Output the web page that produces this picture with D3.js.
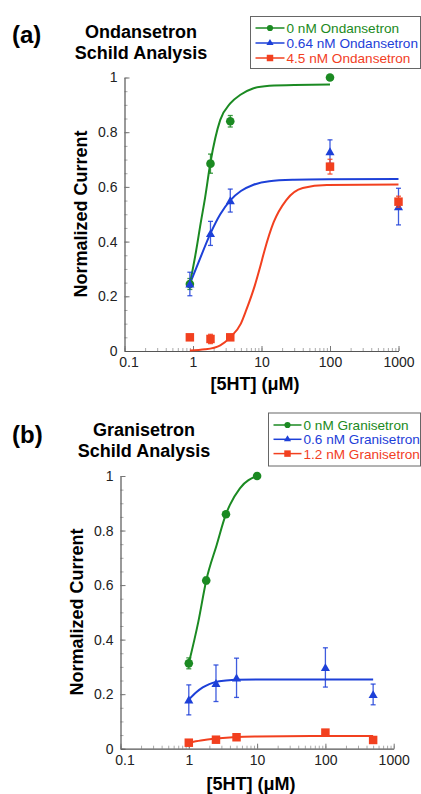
<!DOCTYPE html>
<html>
<head>
<meta charset="utf-8">
<script src="https://cdn.jsdelivr.net/npm/d3@7"></script>
<style>
  html, body { margin: 0; padding: 0; background: #fff; }
  svg { display: block; font-family: 'Liberation Sans', Arial, sans-serif; }
</style>
</head>
<body>
<div class="canvas"></div>
<script>
const xTickValues = [0.1, 1, 10, 100, 1000]
const yTickValues = [0, 0.2, 0.4, 0.6, 0.8, 1]
const yMinorValues = d3.range(0, 1.001, 0.05)
const seriesColors = ['#1b8a22', '#1d40d8', '#f2401f']
const seriesShapes = [d3.symbolCircle, d3.symbolTriangle, d3.symbolSquare]

// (a) ondansetron
const ondLabels = ['0 nM Ondansetron', '0.64 nM Ondansetron', '4.5 nM Ondansetron']
const ondX0 = [0.9, 1.8, 3.5, 100]
const ondY0 = [0.245, 0.685, 0.84, 1.0]
const ondErr0 = [0.02, 0.035, 0.021, 0]
const ondX1 = [0.9, 1.8, 3.5, 100, 1000]
const ondY1 = [0.245, 0.43, 0.55, 0.729, 0.528]
const ondErr1 = [0.043, 0.044, 0.042, 0.043, 0.067]
const ondX2 = [0.9, 1.8, 3.5, 100, 1000]
const ondY2 = [0.05, 0.044, 0.05, 0.674, 0.546]
const ondErr2 = [0.008, 0.017, 0.006, 0.027, 0.02]
const ondFitX0 = [0.9, 1.1, 1.3, 1.5, 1.8, 2.5, 3.5, 5, 7.5, 13, 30, 100]
const ondFitY0 = [0.245, 0.36, 0.47, 0.56, 0.69, 0.845, 0.905, 0.938, 0.96, 0.97, 0.973, 0.974]
const ondFitX1 = [0.9, 1.2, 1.8, 2.5, 3.5, 5, 7.5, 13, 30, 100, 1000]
const ondFitY1 = [0.245, 0.323, 0.43, 0.5, 0.551, 0.585, 0.607, 0.621, 0.626, 0.628, 0.629]
const ondFitX2 = [0.9, 1.5, 2.5, 3.5, 5, 6, 8, 9.5, 11, 15, 23, 40, 90, 1000]
const ondFitY2 = [0.002, 0.006, 0.021, 0.05, 0.1, 0.15, 0.24, 0.305, 0.365, 0.47, 0.552, 0.596, 0.607, 0.609]

// (b) granisetron
const graLabels = ['0 nM Granisetron', '0.6 nM Granisetron', '1.2 nM Granisetron']
const graX0 = [1, 1.8, 3.5, 10]
const graY0 = [0.313, 0.617, 0.86, 1.0]
const graErr0 = [0.02, 0.012, 0.008, 0.005]
const graX1 = [1, 2.5, 5, 100, 500]
const graY1 = [0.179, 0.24, 0.26, 0.298, 0.199]
const graErr1 = [0.055, 0.067, 0.072, 0.072, 0.038]
const graX2 = [1, 2.5, 5, 100, 500]
const graY2 = [0.022, 0.033, 0.042, 0.059, 0.032]
const graErr2 = [0.004, 0.01, 0.01, 0.01, 0.004]
const graFitX0 = [1, 1.38, 1.8, 2.56, 3.5, 4, 5.6, 10]
const graFitY0 = [0.313, 0.466, 0.617, 0.747, 0.86, 0.894, 0.955, 1.0]
const graFitX1 = [1, 1.3, 1.6, 2, 2.5, 3.5, 5, 10, 500]
const graFitY1 = [0.18, 0.208, 0.225, 0.237, 0.245, 0.25, 0.253, 0.254, 0.254]
const graFitX2 = [1, 1.5, 2.5, 5, 10, 100, 500]
const graFitY2 = [0.022, 0.03, 0.037, 0.043, 0.045, 0.047, 0.047]

const makeSeries = (labels, xs, ys, errs, fitXs, fitYs) => labels.map((label, i) => ({
  label,
  color: seriesColors[i],
  shape: seriesShapes[i],
  points: xs[i].map((x, j) => ({x, y: ys[i][j], err: errs[i][j]})),
  fit: fitXs[i].map((x, j) => ({x, y: fitYs[i][j]}))
}))

const ondSeries = makeSeries(ondLabels,
  [ondX0, ondX1, ondX2], [ondY0, ondY1, ondY2], [ondErr0, ondErr1, ondErr2],
  [ondFitX0, ondFitX1, ondFitX2], [ondFitY0, ondFitY1, ondFitY2])
const graSeries = makeSeries(graLabels,
  [graX0, graX1, graX2], [graY0, graY1, graY2], [graErr0, graErr1, graErr2],
  [graFitX0, graFitX1, graFitX2], [graFitY0, graFitY1, graFitY2])

const markerSize = [58, 36, 72]
const legendMarkerSize = [30, 22, 42]

class SchildPanel {
  constructor(svg, layout, texts, series) {
    this.svg = svg
    this.layout = layout
    this.texts = texts
    this.series = series

    this.x = d3.scaleLog().domain([0.1, 1000]).range([layout.left, layout.right])
    this.y = d3.scaleLinear().domain([0, 1]).range([layout.bottom, layout.top])

    this.drawAxes()
    this.drawLabels()
    this.drawFits()
    this.drawPoints()
    this.drawLegend()
  }

  drawAxes() {
    const {left, bottom} = this.layout

    this.svg.append('g')
      .attr('transform', `translate(${left},0)`)
      .call(d3.axisLeft(this.y).tickValues(yMinorValues).tickSize(-3).tickFormat(''))
      .call(g => g.select('.domain').remove())
      .call(g => g.selectAll('line').attr('stroke', '#aaa'))

    this.svg.append('g')
      .attr('transform', `translate(0,${bottom})`)
      .call(d3.axisBottom(this.x).tickValues(this.x.ticks()).tickSize(-3).tickFormat(''))
      .call(g => g.select('.domain').remove())
      .call(g => g.selectAll('line').attr('stroke', '#aaa'))

    const yAxis = this.svg.append('g')
      .attr('transform', `translate(${left},0)`)
      .call(d3.axisLeft(this.y).tickValues(yTickValues).tickSize(-5).tickSizeOuter(0)
        .tickPadding(7).tickFormat(d3.format('~g')))

    const xAxis = this.svg.append('g')
      .attr('transform', `translate(0,${bottom})`)
      .call(d3.axisBottom(this.x).tickValues(xTickValues).tickSize(-5).tickSizeOuter(0)
        .tickPadding(6).tickFormat(d3.format('~g')))

    // the first decade label sits a little right of its tick, clear of the "0"
    xAxis.selectAll('.tick text').filter(d => d === xTickValues[0]).attr('dx', 4)

    for (const axis of [xAxis, yAxis]) {
      axis.select('.domain').attr('stroke', '#555').attr('stroke-width', 1.2)
      axis.selectAll('line').attr('stroke', '#777')
      axis.selectAll('text')
        .attr('fill', '#222')
        .style('font-size', '14px')
        .style('font-family', "'Liberation Sans', Arial, sans-serif")
    }
  }

  drawLabels() {
    const t = this.texts
    this.svg.append('text')
      .attr('x', 12).attr('y', t.tagY)
      .attr('font-size', 24).attr('font-weight', 'bold')
      .text(t.tag)

    this.svg.append('text')
      .attr('text-anchor', 'middle')
      .attr('font-size', 18).attr('font-weight', 'bold')
      .selectAll('tspan')
      .data(t.title)
      .join('tspan')
      .attr('x', t.titleX)
      .attr('y', (d, i) => t.titleY + i * 20.5)
      .text(d => d)

    this.svg.append('text')
      .attr('x', t.xTitleX).attr('y', t.xTitleY)
      .attr('text-anchor', 'middle')
      .attr('font-size', 18).attr('font-weight', 'bold')
      .text('[5HT] (μM)')

    this.svg.append('text')
      .attr('transform', `translate(${t.yTitleX},${t.yTitleY}) rotate(-90)`)
      .attr('text-anchor', 'middle')
      .attr('font-size', 18).attr('font-weight', 'bold')
      .text('Normalized Current')
  }

  drawFits() {
    const line = d3.line()
      .x(d => this.x(d.x))
      .y(d => this.y(d.y))
      .curve(d3.curveMonotoneX)

    this.svg.append('g')
      .selectAll('path')
      .data(this.series)
      .join('path')
      .attr('fill', 'none')
      .attr('stroke', d => d.color)
      .attr('stroke-width', 2)
      .attr('d', d => line(d.fit))
  }

  drawPoints() {
    const groups = this.svg.append('g')
      .selectAll('g')
      .data(this.series)
      .join('g')
      .attr('fill', d => d.color)
      .attr('stroke', d => d.color)

    const bars = groups.selectAll('g.err')
      .data(d => d.points.filter(p => p.err > 0))
      .join('g')
      .attr('class', 'err')
      .attr('stroke-width', 1.3)
      .attr('stroke-opacity', 0.85)

    bars.append('line')
      .attr('x1', d => this.x(d.x)).attr('x2', d => this.x(d.x))
      .attr('y1', d => this.y(d.y - d.err)).attr('y2', d => this.y(d.y + d.err))
    for (const sign of [-1, 1]) {
      bars.append('line')
        .attr('x1', d => this.x(d.x) - 2.5).attr('x2', d => this.x(d.x) + 2.5)
        .attr('y1', d => this.y(d.y + sign * d.err)).attr('y2', d => this.y(d.y + sign * d.err))
    }

    groups.each((s, i, nodes) => {
      d3.select(nodes[i]).selectAll('path')
        .data(s.points)
        .join('path')
        .attr('stroke', 'none')
        .attr('transform', d => `translate(${this.x(d.x)},${this.y(d.y) + (i === 1 ? 1 : 0)})`)
        .attr('d', d3.symbol(s.shape, markerSize[i]))
    })
  }

  drawLegend() {
    const lg = this.layout.legend
    const legend = this.svg.append('g')

    legend.append('rect')
      .attr('x', lg.x).attr('y', lg.y)
      .attr('width', lg.width).attr('height', lg.height)
      .attr('fill', '#fff')
      .attr('stroke', '#666')
      .attr('stroke-width', 1)

    const rows = legend.selectAll('g.row')
      .data(this.series)
      .join('g')
      .attr('class', 'row')
      .attr('transform', (d, i) => `translate(${lg.x + 5},${lg.rowY + i * lg.rowGap})`)

    rows.append('line')
      .attr('x1', 0).attr('x2', lg.symbolWidth)
      .attr('stroke', d => d.color)
      .attr('stroke-width', 1.5)

    rows.append('path')
      .attr('transform', `translate(${lg.symbolWidth / 2},0)`)
      .attr('fill', d => d.color)
      .attr('d', (d, i) => d3.symbol(d.shape, legendMarkerSize[i])())

    rows.append('text')
      .attr('x', lg.symbolWidth + 2)
      .attr('y', 5)
      .attr('fill', d => d.color)
      .attr('font-size', 13.6)
      .text(d => d.label)
  }
}

const svg = d3.select('.canvas')
  .append('svg')
  .attr('width', 421)
  .attr('height', 794)

new SchildPanel(svg, {
  left: 124.5, right: 398.5, top: 77.5, bottom: 351,
  legend: {x: 250.5, y: 16.5, width: 170, height: 52, rowY: 28, rowGap: 15, symbolWidth: 29}
}, {
  tag: '(a)', tagY: 43,
  title: ['Ondansetron', 'Schild Analysis'], titleX: 141, titleY: 38,
  xTitleX: 255, xTitleY: 390,
  yTitleX: 87, yTitleY: 214
}, ondSeries)

new SchildPanel(svg, {
  left: 120.5, right: 393.7, top: 476, bottom: 748.7,
  legend: {x: 268.5, y: 413, width: 152, height: 53, rowY: 425, rowGap: 14.3, symbolWidth: 28}
}, {
  tag: '(b)', tagY: 443,
  title: ['Granisetron', 'Schild Analysis'], titleX: 144, titleY: 436,
  xTitleX: 251, xTitleY: 790,
  yTitleX: 83, yTitleY: 612
}, graSeries)
</script>
</body>
</html>
